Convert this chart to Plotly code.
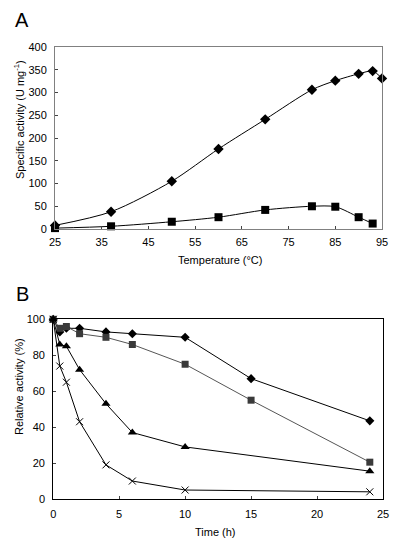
import plotly.graph_objects as go

# Panel A data
temp_c = [25, 37, 50, 60, 70, 80, 85, 90, 93, 95]
act_diamond = [8, 38, 105, 176, 241, 306, 326, 341, 347, 331]
temp_sq = [25, 37, 50, 60, 70, 80, 85, 90, 93]
act_square = [2, 6, 16, 26, 42, 50, 49, 26, 12]

# Panel B data
time_h = [0, 0.5, 1, 2, 4, 6, 10, 15, 24]
rel_diamond = [100, 93, 95, 95, 93, 92, 90, 67, 43.5]
rel_square = [100, 95, 96, 92, 90, 86, 75, 55, 20.5]
time_tri = [0, 0.5, 1, 2, 4, 6, 10, 24]
rel_triangle = [100, 86, 85, 72, 53, 37, 29, 15.5]
time_x = [0, 0.5, 1, 2, 4, 6, 10, 24]
rel_x = [100, 74, 65, 43, 19, 10, 5, 4]

FONT = "Liberation Sans, Arial, sans-serif"
fig = go.Figure()

fig.add_trace(go.Scatter(x=temp_c, y=act_diamond, mode="lines+markers",
    line=dict(color="black", width=1, shape="spline", smoothing=0.8),
    marker=dict(symbol="diamond", size=8, color="black"), xaxis="x", yaxis="y", cliponaxis=False))
fig.add_trace(go.Scatter(x=temp_sq, y=act_square, mode="lines+markers",
    line=dict(color="black", width=1, shape="spline", smoothing=0.8),
    marker=dict(symbol="square", size=8, color="black"), xaxis="x", yaxis="y", cliponaxis=False))

fig.add_trace(go.Scatter(x=time_h, y=rel_diamond, mode="lines+markers",
    line=dict(color="black", width=1),
    marker=dict(symbol="diamond", size=7, color="black"), xaxis="x2", yaxis="y2", cliponaxis=False))
fig.add_trace(go.Scatter(x=time_h, y=rel_square, mode="lines+markers",
    line=dict(color="#555555", width=1),
    marker=dict(symbol="square", size=7, color="#3a3a3a"), xaxis="x2", yaxis="y2", cliponaxis=False))
fig.add_trace(go.Scatter(x=time_tri, y=rel_triangle, mode="lines+markers",
    line=dict(color="black", width=1),
    marker=dict(symbol="triangle-up", size=8, color="black"), xaxis="x2", yaxis="y2", cliponaxis=False))
fig.add_trace(go.Scatter(x=time_x, y=rel_x, mode="lines+markers",
    line=dict(color="black", width=1),
    marker=dict(symbol="x-thin", size=7, color="black", line=dict(width=1, color="black")),
    xaxis="x2", yaxis="y2", cliponaxis=False))

axis_common = dict(showgrid=False, zeroline=False, ticks="inside", ticklen=3,
                   tickfont=dict(family=FONT, size=11, color="black"), mirror=True,
                   showline=True, linewidth=1, automargin=False)

def note(text, x, y, size=11, angle=0):
    return dict(text=text, x=x/400, y=1-y/544, xref="paper", yref="paper", showarrow=False,
                xanchor="center", yanchor="middle", textangle=angle,
                font=dict(family=FONT, size=size, color="black"))

fig.update_layout(
    width=400, height=544, margin=dict(l=0, r=0, t=0, b=0, pad=0, autoexpand=False),
    paper_bgcolor="white", plot_bgcolor="white", showlegend=False,
    xaxis=dict(domain=[0.1375, 0.955], range=[25, 95], dtick=10, tick0=25,
               anchor="y", linecolor="#808080", ticklabelstandoff=3, **axis_common),
    yaxis=dict(domain=[0.579, 0.9136], range=[0, 400], dtick=50,
               anchor="x", linecolor="#808080", ticklabelstandoff=5, **axis_common),
    xaxis2=dict(domain=[0.133, 0.9575], range=[0, 25], dtick=5,
                anchor="y2", linecolor="black", ticklabelstandoff=5, **axis_common),
    yaxis2=dict(domain=[0.0827, 0.413], range=[0, 100], dtick=20,
                anchor="x2", linecolor="black", ticklabelstandoff=5, **axis_common),
    annotations=[
        note("A", 22, 20, size=20),
        note("B", 22, 294, size=20),
        note("Specific activity (U mg<sup>-1</sup>)", 19, 120, angle=-90),
        note("Temperature (°C)", 220, 260),
        note("Relative activity (%)", 19, 387, angle=-90),
        note("Time (h)", 215, 532),
    ],
)

fig.write_html("out.html", config={"displayModeBar": False},
               post_script="document.body.style.margin='0px';")
